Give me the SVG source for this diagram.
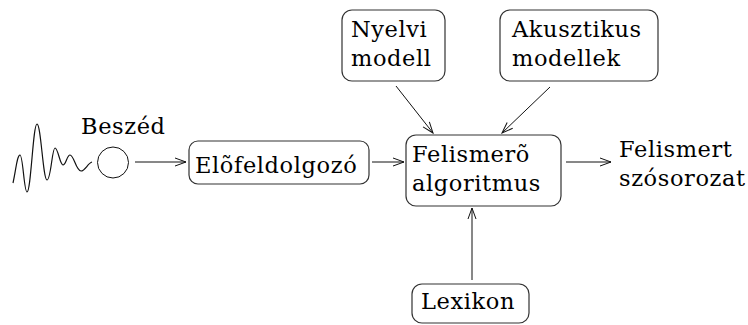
<svg xmlns="http://www.w3.org/2000/svg" width="748" height="325" viewBox="0 0 748 325">
<defs>
<style>
text{font-family:"DejaVu Serif","Liberation Serif",serif;font-size:22.5px;fill:#000;letter-spacing:0.6px}
.box{fill:#fff;stroke:#333;stroke-width:1.2}
.conn line{stroke:#111;stroke-width:1;marker-end:url(#ah)}
</style>
<marker id="ah" viewBox="-12 -6 14 12" markerWidth="14" markerHeight="12" refX="0" refY="0" orient="auto" markerUnits="userSpaceOnUse">
<path d="M-11,-4 L0,0 L-11,4" fill="none" stroke="#111" stroke-width="1"/>
</marker>
</defs>
<rect width="748" height="325" fill="#fff"/>
<g id="wave">
<path d="M13,183 C16,170 17,155 20,155 C23,155 24,192 27,192 C31,192 33,124 37,124 C41,124 43,180 47,180 C51,180 52,148 55,148 C58,148 60,165 63,165 C66,165 67,155 70,155 C74,155 76,171 81,171 C85,171 88,163 92,162" fill="none" stroke="#111" stroke-width="1.2"/>
</g>
<g id="src">
<circle cx="113" cy="162.5" r="15.5" fill="#fff" stroke="#111" stroke-width="1"/>
<text x="81" y="134">Beszéd</text>
</g>
<g id="elofeld">
<rect class="box" x="189" y="141" width="180" height="43" rx="9"/>
<text x="195" y="173">Elõfeldolgozó</text>
</g>
<g id="nyelvi">
<rect class="box" x="342" y="10" width="103" height="71" rx="10"/>
<text x="351" y="37">Nyelvi</text>
<text x="351" y="66">modell</text>
</g>
<g id="akusztikus">
<rect class="box" x="500" y="10" width="158" height="71" rx="10"/>
<text x="512" y="37">Akusztikus</text>
<text x="512" y="66">modellek</text>
</g>
<g id="felismero">
<rect class="box" x="406" y="135" width="155" height="71" rx="10"/>
<text x="412" y="162">Felismerõ</text>
<text x="412" y="191">algoritmus</text>
</g>
<g id="lexikon">
<rect class="box" x="412" y="284" width="117" height="39" rx="10"/>
<text x="421" y="309">Lexikon</text>
</g>
<g id="output">
<text x="619" y="157">Felismert</text>
<text x="619" y="186">szósorozat</text>
</g>
<g class="conn" id="connectors">
<line x1="135" y1="162" x2="186" y2="162"/>
<line x1="372" y1="162" x2="404" y2="162"/>
<line x1="396" y1="86" x2="433" y2="133"/>
<line x1="550" y1="87" x2="502" y2="133"/>
<line x1="472" y1="280" x2="472" y2="208"/>
<line x1="566" y1="162" x2="611" y2="162"/>
</g>
</svg>
